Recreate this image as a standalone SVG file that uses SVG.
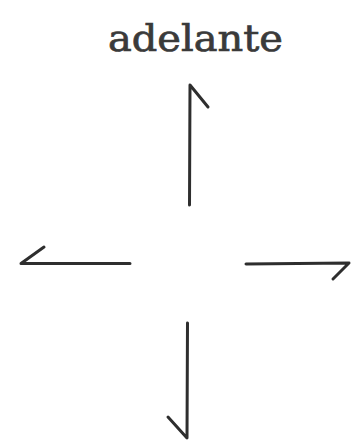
<svg xmlns="http://www.w3.org/2000/svg" width="351" height="444" viewBox="0 0 351 444">
<style>
.a{fill:none;stroke:#2e2e2e;stroke-width:3;stroke-linecap:round;stroke-linejoin:round}
.t{font-family:"DejaVu Serif","Liberation Serif",serif;font-size:37px;fill:#3a3a3a;stroke:#3a3a3a;stroke-width:0.7}
</style>
<rect width="351" height="444" fill="#fff"/>
<g id="label"><text class="t" x="108" y="51" textLength="175" lengthAdjust="spacingAndGlyphs">adelante</text></g>
<g id="connectors">
<path id="up" class="a" d="M189.5,205 L190,85 L208,107"/>
<path id="left" class="a" d="M130,263.5 L21,263.5 L44,247"/>
<path id="right" class="a" d="M246,264 L349,263 L333,279"/>
<path id="down" class="a" d="M187.5,323 L187,438 L168,417"/>
</g>
</svg>
